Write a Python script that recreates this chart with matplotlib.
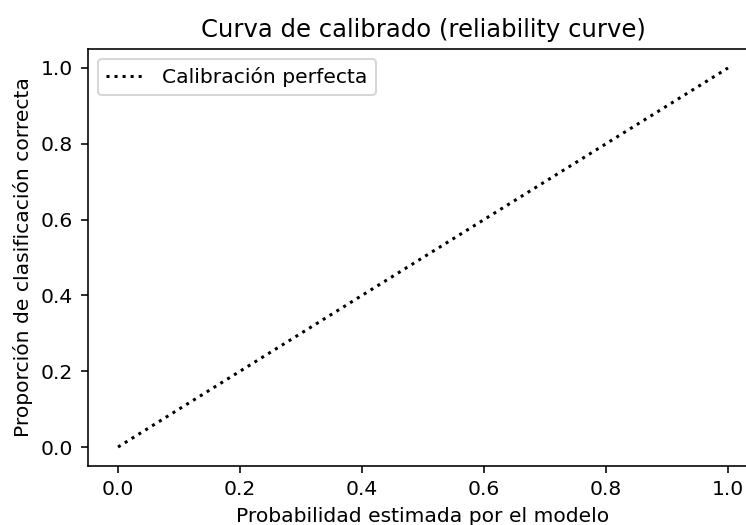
import matplotlib
matplotlib.use("Agg")
import matplotlib.pyplot as plt

prob_x = [0, 1]
prob_y = [0, 1]
line_label = "Calibración perfecta"
title = "Curva de calibrado (reliability curve)"
xlabel = "Probabilidad estimada por el modelo"
ylabel = "Proporción de clasificación correcta"

W, H = 746, 525
dpi = 145.6
fig = plt.figure(figsize=(W / dpi, H / dpi), dpi=dpi)
left, right, top, bottom = 87.5, 758.5, 49, 466
ax = fig.add_axes([left / W, (H - bottom) / H, (right - left) / W, (bottom - top) / H])
ax.plot(prob_x, prob_y, "k:", label=line_label)
ax.set_title(title)
ax.set_xlabel(xlabel)
ax.set_ylabel(ylabel)
ax.legend(loc="upper left")
fig.savefig("out.png", dpi=dpi)
